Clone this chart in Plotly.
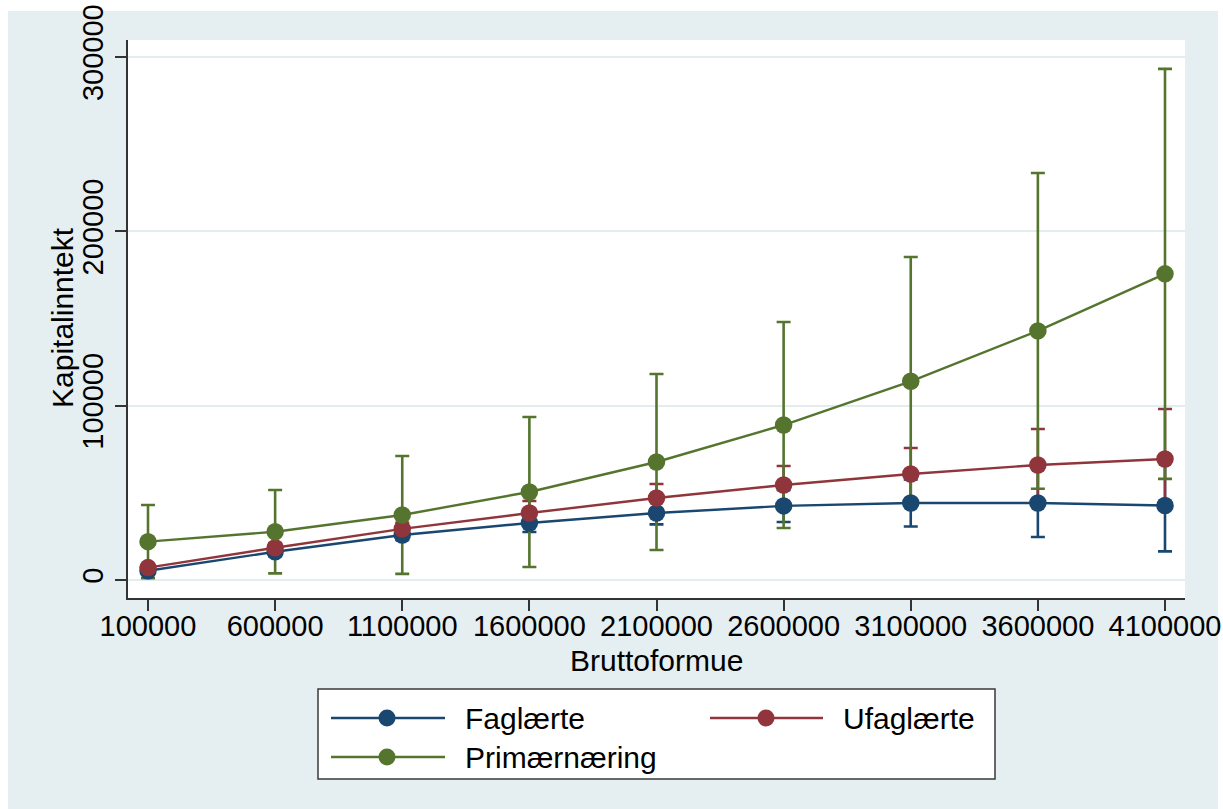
import plotly.graph_objects as go

# Bruttoformue levels (x) and predicted Kapitalinntekt with 95% CI half-widths
bruttoformue = [100000, 600000, 1100000, 1600000, 2100000, 2600000, 3100000, 3600000, 4100000]

faglaerte = [5300, 16200, 25800, 32700, 38400, 42500, 44200, 44200, 42700]
faglaerte_ci = [2000, 2500, 2800, 5200, 6500, 9200, 13500, 19500, 26300]

ufaglaerte = [7100, 18500, 29300, 38400, 47000, 54500, 60800, 66000, 69400]
ufaglaerte_ci = [1500, 2500, 3500, 6900, 8100, 10900, 14900, 20600, 28700]

primaer = [22000, 27700, 37300, 50500, 67700, 88900, 114000, 142900, 175600]
primaer_ci = [21000, 23900, 33800, 43000, 50500, 59100, 71300, 90600, 117600]

series_names = ["Faglærte", "Ufaglærte", "Primærnæring"]
series_vals = [faglaerte, ufaglaerte, primaer]
series_ci = [faglaerte_ci, ufaglaerte_ci, primaer_ci]
series_colors = ["#1a476f", "#90353b", "#55752f"]

x_ticks = [100000, 600000, 1100000, 1600000, 2100000, 2600000, 3100000, 3600000, 4100000]
y_ticks = [0, 100000, 200000, 300000]

W, H = 1223, 809
ML, MR, MT, MB = 128, 38, 40, 211
PW, PH = W - ML - MR, H - MT - MB
FONT = "Liberation Sans, Arial, Helvetica, sans-serif"
REGION = "#e5eef0"


def px(xp):
    return (xp - ML) / PW


def py(yp):
    return (H - MB - yp) / PH


fig = go.Figure()

# confidence intervals first, so every marker sits on top of them
for name, vals, ci, col in zip(series_names, series_vals, series_ci, series_colors):
    fig.add_trace(go.Scatter(
        x=bruttoformue, y=vals, mode="markers",
        marker=dict(size=1, opacity=0, color=col),
        error_y=dict(type="data", array=ci, visible=True, color=col,
                     thickness=2.6, width=7),
        showlegend=False, hoverinfo="skip",
    ))

for name, vals, col in zip(series_names, series_vals, series_colors):
    fig.add_trace(go.Scatter(
        x=bruttoformue, y=vals, mode="lines+markers", name=name,
        line=dict(color=col, width=2.4),
        marker=dict(size=17.5, color=col),
        showlegend=False,
    ))

shapes = []
# white page strips around the graph region
for x0, x1, y0, y1 in [(-10, 8, -10, 820), (1218, 1240, -10, 820), (-10, 1240, -10, 11)]:
    shapes.append(dict(type="rect", xref="paper", yref="paper",
                       x0=px(x0), x1=px(x1), y0=py(y1), y1=py(y0),
                       fillcolor="white", line=dict(width=0), layer="below"))

# legend box
shapes.append(dict(type="rect", xref="paper", yref="paper",
                   x0=px(318), x1=px(995), y0=py(779), y1=py(689),
                   fillcolor="white", line=dict(color="#3a3a3a", width=1.5)))

legend_items = [
    (series_names[0], series_colors[0], 331, 445, 387, 463, 718),
    (series_names[1], series_colors[1], 710, 823, 766, 841, 718),
    (series_names[2], series_colors[2], 331, 445, 387, 463, 757),
]
annotations = []
for name, col, lx0, lx1, mx, tx, ty in legend_items:
    shapes.append(dict(type="line", xref="paper", yref="paper",
                       x0=px(lx0), x1=px(lx1), y0=py(ty), y1=py(ty),
                       line=dict(color=col, width=2.4)))
    shapes.append(dict(type="circle", xref="paper", yref="paper",
                       xsizemode="pixel", ysizemode="pixel",
                       xanchor=px(mx), yanchor=py(ty),
                       x0=-8.5, x1=8.5, y0=-8.5, y1=8.5,
                       fillcolor=col, line=dict(color=col, width=0)))
    annotations.append(dict(text=name, xref="paper", yref="paper",
                            x=px(tx), y=py(ty), xanchor="left", yanchor="middle",
                            showarrow=False, font=dict(family=FONT, size=30, color="black")))

# axis titles
annotations.append(dict(text="Bruttoformue", xref="paper", yref="paper",
                        x=px(656), y=py(660), xanchor="center", yanchor="middle",
                        showarrow=False, font=dict(family=FONT, size=30, color="black")))
annotations.append(dict(text="Kapitalinntekt", xref="paper", yref="paper",
                        x=px(62), y=py(318), xanchor="center", yanchor="middle",
                        textangle=-90, showarrow=False,
                        font=dict(family=FONT, size=30, color="black")))

fig.update_layout(
    width=W, height=H,
    margin=dict(l=ML, r=MR, t=MT, b=MB, pad=0),
    paper_bgcolor=REGION, plot_bgcolor="white",
    font=dict(family=FONT, size=29, color="black"),
    shapes=shapes, annotations=annotations,
    showlegend=False,
)

fig.update_xaxes(
    range=[21337, 4178663], tickvals=x_ticks,
    ticktext=[str(v) for v in x_ticks],
    automargin=False,
    showgrid=False, zeroline=False,
    showline=True, linecolor="#333333", linewidth=2,
    ticks="outside", ticklen=11, tickwidth=1.5, tickcolor="#333333",
    ticklabelstandoff=-10,
    tickfont=dict(family=FONT, size=29),
)
fig.update_yaxes(
    range=[-10325, 309752], tickvals=y_ticks,
    ticktext=[str(v) for v in y_ticks], tickangle=-90,
    automargin=False,
    showgrid=True, gridcolor="#e3ecee", gridwidth=2,
    zeroline=False,
    showline=True, linecolor="#333333", linewidth=2,
    ticks="outside", ticklen=11, tickwidth=1.5, tickcolor="#333333",
    tickfont=dict(family=FONT, size=29),
)

fig.write_html("out.html")
